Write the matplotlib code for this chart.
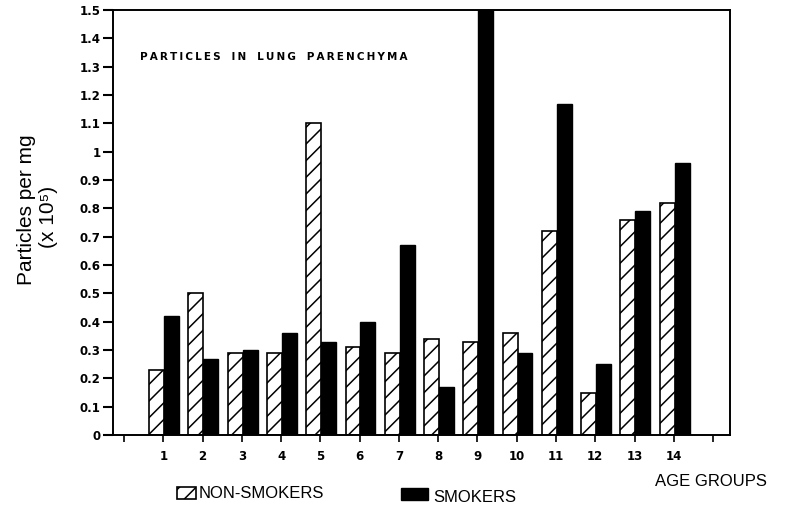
import matplotlib
matplotlib.use('Agg')
import matplotlib.pyplot as plt
import matplotlib.patches as mpatches
import numpy as np

# particle counts per mg (x 10^5) by age group
groups = list(range(1, 15))
non_smokers = [0.23, 0.50, 0.29, 0.29, 1.10, 0.31, 0.29, 0.34, 0.33, 0.36, 0.72, 0.15, 0.76, 0.82]
smokers = [0.42, 0.27, 0.30, 0.36, 0.33, 0.40, 0.67, 0.17, 1.50, 0.29, 1.17, 0.25, 0.79, 0.96]

yticks = [round(i * 0.1, 1) for i in range(16)]
ytick_labels = ['0'] + ['%.1f' % v for v in yticks[1:10]] + ['1'] + ['%.1f' % v for v in yticks[11:]]
xticks = list(range(0, 16))
xtick_labels = [''] + [str(g) for g in groups] + ['']

plt.rcParams['hatch.linewidth'] = 1.1

fig = plt.figure(figsize=(7.97, 5.11), dpi=100)
ax = fig.add_axes([113/797, 1 - 435/511, (730 - 113)/797, (435 - 10)/511])

x = np.array(groups)
w = 0.38
ax.bar(x - 0.17, non_smokers, w, color='white', edgecolor='black', hatch='//', linewidth=1.2)
ax.bar(x + 0.21, smokers, w, color='black', edgecolor='black', linewidth=1.0)

ax.set_xlim(-0.28, 15.43)
ax.set_ylim(0, 1.5)
ax.set_yticks(yticks)
ax.set_yticklabels(ytick_labels, fontsize=8.5, fontweight='bold')
ax.set_xticks(xticks)
ax.set_xticklabels(xtick_labels, fontsize=8.5, fontweight='bold')
ax.tick_params(axis='y', direction='out', length=7, width=1.5, pad=2)
ax.tick_params(axis='x', direction='out', length=5, width=1.2, pad=6)
for s in ax.spines.values():
    s.set_linewidth(1.4)

# spaced-out caption inside the plot
caption = '   '.join('\u2009'.join(word) for word in 'PARTICLES IN LUNG PARENCHYMA'.split())
fig.text(140/797, 1 - 57/511, caption, fontsize=7.5, fontweight='bold', va='center', ha='left')

fig.text(27/797, 1 - 210/511, 'Particles per mg', rotation=90, fontsize=15,
         family='Liberation Sans', ha='center', va='center')
fig.text(49/797, 1 - 217/511, '(x 10\u2075)', rotation=90, fontsize=15,
         family=['Liberation Sans', 'DejaVu Sans'], ha='center', va='center')

# legend
fig.add_artist(mpatches.Rectangle((177/797, 1 - 499/511), 19/797, 12/511,
                                  transform=fig.transFigure, facecolor='white',
                                  edgecolor='black', hatch='//', linewidth=1.2))
fig.text(199/797, 1 - 493/511, 'NON-SMOKERS', fontsize=12, family='Liberation Sans', va='center')
fig.add_artist(mpatches.Rectangle((401/797, 1 - 500/511), 27/797, 12/511,
                                  transform=fig.transFigure, facecolor='black',
                                  edgecolor='black'))
fig.text(433/797, 1 - 497/511, 'SMOKERS', fontsize=12, family='Liberation Sans', va='center')
fig.text(655/797, 1 - 481/511, 'AGE GROUPS', fontsize=12, family='Liberation Sans', va='center')

fig.savefig('out.png', dpi=100)
